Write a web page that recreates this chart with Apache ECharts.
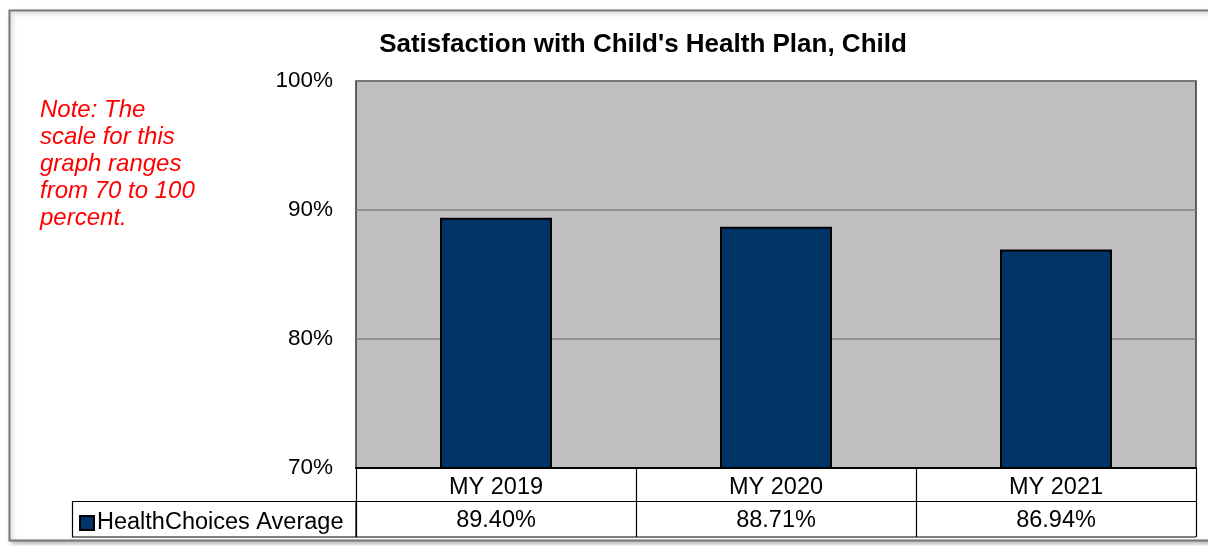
<!DOCTYPE html>
<html>
<head>
<meta charset="utf-8">
<script src="https://cdn.jsdelivr.net/npm/echarts@6/dist/echarts.min.js"></script>
<style>
  html, body { margin: 0; padding: 0; background: #fff; }
  #chart { width: 1208px; height: 546px; }
</style>
</head>
<body>
<div id="chart"></div>
<script>
  // data
  const categories = ['MY 2019', 'MY 2020', 'MY 2021'];
  const healthChoicesAverage = [89.40, 88.71, 86.94];
  const yTicks = [70, 80, 90, 100];

  const FONT = 'Arial, "Liberation Sans", sans-serif';
  const chart = echarts.init(document.getElementById('chart'));

  chart.setOption({
    backgroundColor: '#ffffff',
    animation: false,
    title: {
      text: "Satisfaction with Child's Health Plan, Child",
      left: 638,
      top: 27,
      textAlign: 'center',
      textStyle: { fontFamily: FONT, fontSize: 26, fontWeight: 'bold', color: '#000' }
    },
    legend: {
      left: 74,
      top: 506,
      icon: 'rect',
      itemWidth: 14,
      itemHeight: 14,
      itemGap: 4,
      textStyle: { fontFamily: FONT, fontSize: 23.5, color: '#000', padding: [0, 0, 0, -2] },
      data: ['HealthChoices Average']
    },
    grid: {
      left: 356,
      right: 12,
      top: 81,
      bottom: 78,
      show: true,
      backgroundColor: '#c0c0c0',
      borderColor: '#333',
      borderWidth: 1.5
    },
    xAxis: [{
      type: 'category',
      position: 'bottom',
      data: categories,
      axisLine: { lineStyle: { color: '#000', width: 2 } },
      axisTick: { show: true, interval: 0, length: 33, lineStyle: { color: '#000', width: 1.2 } },
      axisLabel: { interval: 0, margin: 8, fontFamily: FONT, fontSize: 23.5, color: '#000' }
    }, {
      type: 'category',
      position: 'bottom',
      offset: 33,
      data: categories,
      axisLine: { lineStyle: { color: '#000', width: 1.2 } },
      axisTick: { show: true, interval: 0, length: 36, lineStyle: { color: '#000', width: 1.2 } },
      axisLabel: {
        interval: 0,
        margin: 8,
        fontFamily: FONT,
        fontSize: 23.5,
        color: '#000',
        formatter: (v, i) => healthChoicesAverage[i].toFixed(2) + '%'
      }
    }],
    yAxis: {
      type: 'value',
      min: yTicks[0],
      max: yTicks[yTicks.length - 1],
      interval: 10,
      axisLine: { show: false },
      axisTick: { show: false },
      splitLine: { lineStyle: { color: '#808080', width: 1.5 } },
      axisLabel: { margin: 23, fontFamily: FONT, fontSize: 22.5, color: '#000', formatter: '{value}%' }
    },
    graphic: [{
      type: 'rect',
      silent: true,
      z: -1,
      shape: { x: 9.5, y: 10.5, width: 1210, height: 530 },
      style: { fill: '#fff', stroke: '#777', lineWidth: 2, shadowColor: 'rgba(0,0,0,0.25)', shadowBlur: 4, shadowOffsetX: 2, shadowOffsetY: 2 }
    }, {
      type: 'rect',
      silent: true,
      shape: { x: 72.5, y: 501.5, width: 283.5, height: 35.5 },
      style: { fill: 'none', stroke: '#000', lineWidth: 1.2 }
    }, {
      type: 'line',
      silent: true,
      shape: { x1: 356, y1: 537, x2: 1196, y2: 537 },
      style: { stroke: '#000', lineWidth: 1.2 }
    }, {
      type: 'text',
      silent: true,
      left: 40,
      top: 97,
      style: {
        text: 'Note: The\nscale for this\ngraph ranges\nfrom 70 to 100\npercent.',
        fontFamily: FONT,
        fontStyle: 'italic',
        fontSize: 24,
        lineHeight: 27,
        fill: '#ff0000'
      }
    }],
    series: [{
      name: 'HealthChoices Average',
      type: 'bar',
      barWidth: '40%',
      itemStyle: { color: '#003366', borderColor: '#000', borderWidth: 2 },
      data: healthChoicesAverage
    }]
  });
</script>
</body>
</html>
